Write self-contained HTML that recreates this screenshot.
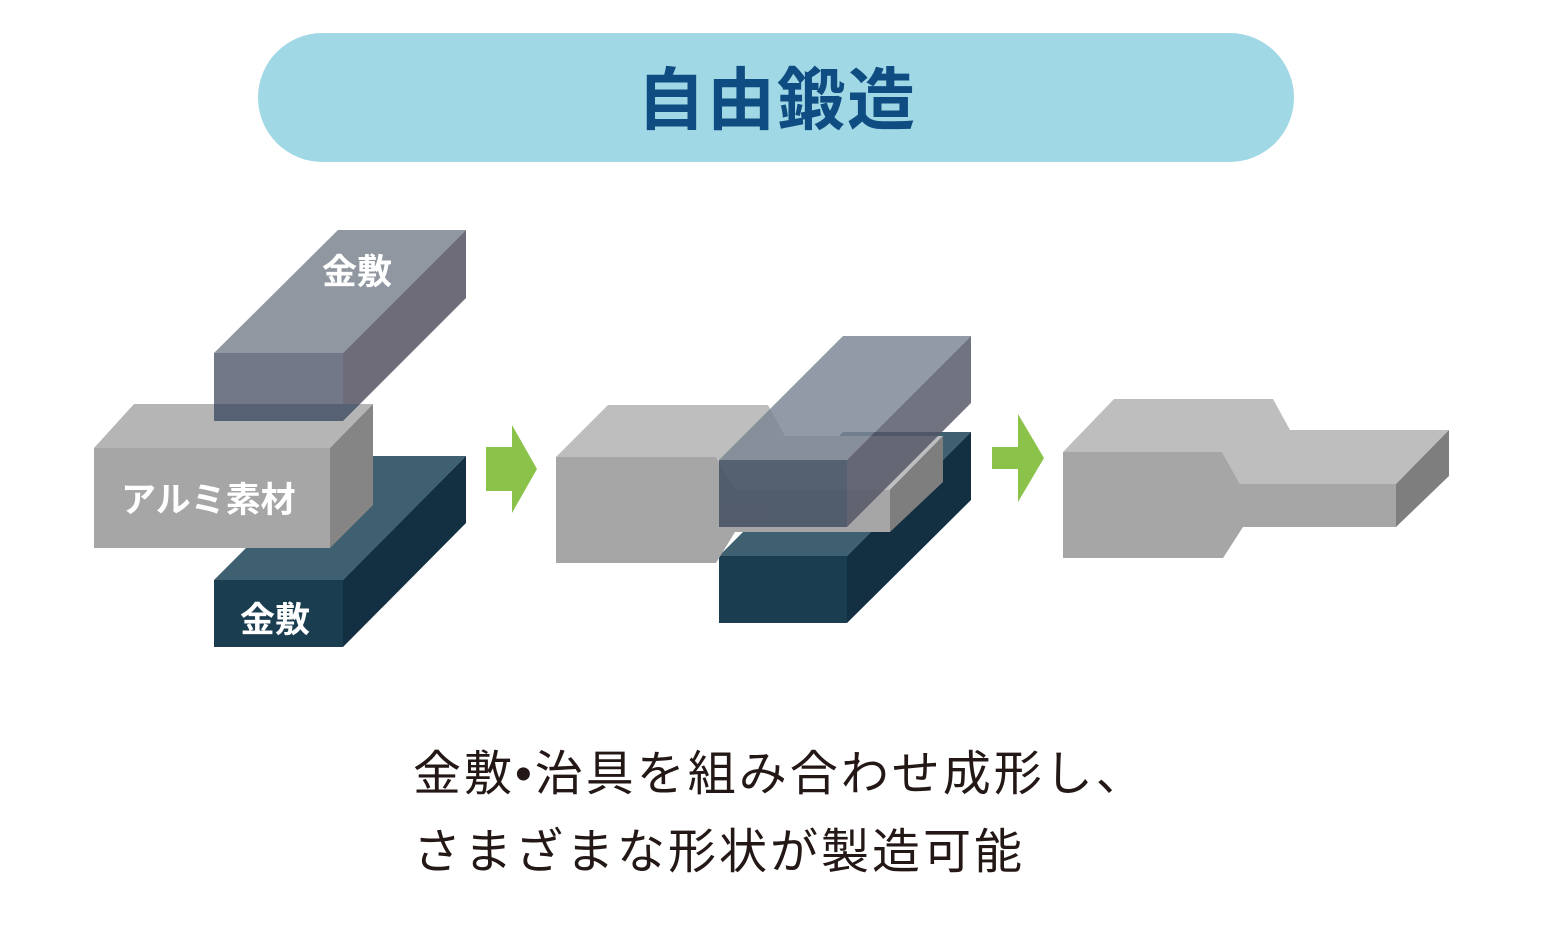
<!DOCTYPE html>
<html><head><meta charset="utf-8"><style>
html,body{margin:0;padding:0;background:#fff;}
body{width:1549px;height:948px;overflow:hidden;position:relative;}
svg{position:absolute;left:0;top:0;}
</style></head><body>
<svg width="1549" height="948" viewBox="0 0 1549 948" xmlns="http://www.w3.org/2000/svg">
<rect x="258" y="33" width="1036" height="129" rx="64.5" fill="#a0d8e5"/>
<text x="777" y="124" text-anchor="middle" font-family="Liberation Sans, Noto Sans CJK JP, sans-serif" font-size="68" font-weight="bold" fill="#0f4c81" letter-spacing="2">自由鍛造</text>

<polygon points="214,580 338,456 466,456 343,580" fill="#3f6070"/>
<polygon points="343,580 466,456 466,523 343,647" fill="#132f42"/>
<rect x="214" y="580" width="129" height="67" fill="#1b3d50"/>
<polygon points="214,353 338,230 466,230 343,353" fill="#9097a1"/>
<polygon points="343,353 466,230 466,298 343,421" fill="#6d6c78"/>
<rect x="214" y="353" width="129" height="68" fill="#737888"/>
<polygon points="94,448 134,404 373,404 330,448" fill="#b5b5b5"/>
<polygon points="330,448 373,404 373,505 330,548" fill="#858585"/>
<rect x="94" y="448" width="236" height="100" fill="#a6a6a6"/>
<polygon points="214,404 343,404 343,421 214,421" fill="#566173"/>
<polygon points="343,404 360,404 343,421" fill="#566173"/>
<text x="322" y="284" font-family="Liberation Sans, Noto Sans CJK JP, sans-serif" font-size="35" font-weight="bold" fill="#fff">金敷</text>
<text x="121" y="512" font-family="Liberation Sans, Noto Sans CJK JP, sans-serif" font-size="35" font-weight="bold" fill="#fff">アルミ素材</text>
<text x="240" y="632" font-family="Liberation Sans, Noto Sans CJK JP, sans-serif" font-size="35" font-weight="bold" fill="#fff">金敷</text>

<polygon points="486,447 512,447 512,425 537,469 512,513 512,491 486,491" fill="#8bc34a"/>
<polygon points="992,447 1018,447 1018,414 1044,458 1018,502 1018,469 992,469" fill="#8bc34a"/>

<polygon points="719,556 843,432 971,432 847,556" fill="#3f6070"/>
<polygon points="847,556 971,432 971,500 847,623" fill="#132f42"/>
<rect x="719" y="556" width="128" height="67" fill="#1b3d50"/>
<polygon points="556,457 608,405 768,405 785,436 943,436 890,490 735,490 716,457" fill="#bebebe"/>
<polygon points="890,490 943,436 943,482 890,532" fill="#7e7e7e"/>
<polygon points="556,457 716,457 735,490 890,490 890,532 735,532 716,563 556,563" fill="#a6a6a6"/>
<g opacity="0.82">
<polygon points="719,460 843,336 971,336 847,460" fill="#7c8594"/>
<polygon points="847,460 971,336 971,403 847,527" fill="#535566"/>
<rect x="719" y="460" width="128" height="67" fill="#3f4c60"/>
</g>

<polygon points="1063,452 1114,399 1273,399 1290,430 1449,430 1396,484 1240,484 1222,452" fill="#bebebe"/>
<polygon points="1396,484 1449,430 1449,476 1396,527" fill="#7e7e7e"/>
<polygon points="1063,452 1222,452 1240,484 1396,484 1396,527 1243,527 1223,558 1063,558" fill="#a6a6a6"/>

<text font-family="Liberation Sans, Noto Sans CJK JP, sans-serif" font-size="48" fill="#231815" letter-spacing="3">
<tspan x="413" y="790">金敷•治具を組み合わせ成形し、</tspan>
<tspan x="413" y="868">さまざまな形状が製造可能</tspan>
</text>
</svg>
</body></html>
